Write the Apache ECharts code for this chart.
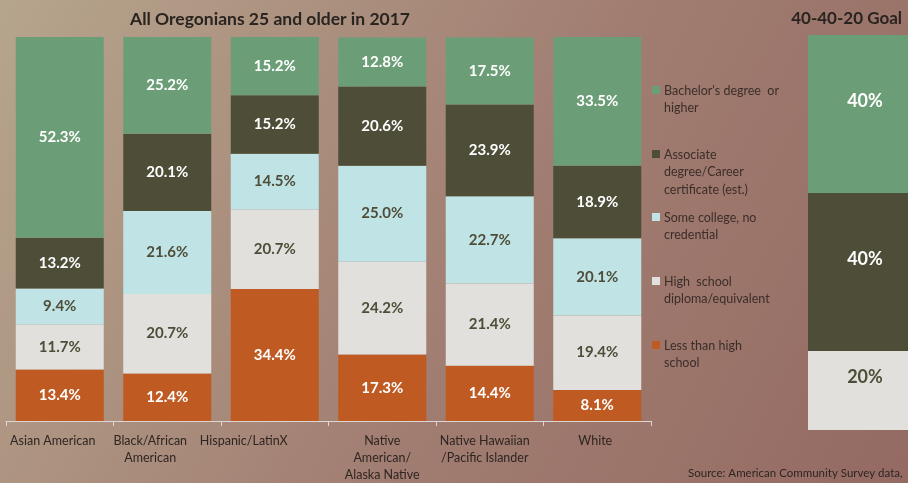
<!DOCTYPE html>
<html>
<head>
<meta charset="utf-8">
<style>
  html, body { margin: 0; padding: 0; }
  #chart { width: 908px; height: 483px; }
</style>
<script src="https://cdn.jsdelivr.net/npm/echarts@6/dist/echarts.min.js"></script>
</head>
<body>
<div id="chart"></div>
<script>
const categories = [
  'Asian American',
  'Black/African\nAmerican',
  'Hispanic/LatinX',
  'Native\nAmerican/\nAlaska Native',
  'Native Hawaiian\n/Pacific Islander',
  'White',
]
// how far each category label sits left of its bar centre (px)
const labelShift = [7, 17, 31, 0, 5, 2]

// bottom to top
const seriesNames = [
  'Less than high school',
  'High school diploma/equivalent',
  'Some college, no credential',
  'Associate degree/Career certificate (est.)',
  "Bachelor's degree or higher",
]
const legendLines = [
  "Bachelor's degree  or\nhigher",
  'Associate\ndegree/Career\ncertificate (est.)',
  'Some college, no\ncredential',
  'High  school\ndiploma/equivalent',
  'Less than high\nschool',
]

const lessThanHS = [13.4, 12.4, 34.4, 17.3, 14.4, 8.1]
const highSchool = [11.7, 20.7, 20.7, 24.2, 21.4, 19.4]
const someCollege = [9.4, 21.6, 14.5, 25.0, 22.7, 20.1]
const associate = [13.2, 20.1, 15.2, 20.6, 23.9, 18.9]
const bachelor = [52.3, 25.2, 15.2, 12.8, 17.5, 33.5]

const goalValues = [20, 40, 40] // high school, associate, bachelor

const colors = ['#bf5a22', '#e2e0dc', '#c0e3e6', '#4e4d38', '#6b9e77']
const labelColors = ['#ffffff', '#4e4d38', '#4e4d38', '#ffffff', '#ffffff']
const fontFamily = 'Lato, "Open Sans", sans-serif'

const chart = echarts.init(document.getElementById('chart'))

const dataSets = [lessThanHS, highSchool, someCollege, associate, bachelor]

const series = dataSets.map((vals, i) => ({
  name: seriesNames[i],
  type: 'bar',
  stack: 'all',
  xAxisIndex: 0,
  yAxisIndex: 0,
  barWidth: 88,
  data: vals,
  itemStyle: { color: colors[i] },
  label: {
    show: true,
    position: 'inside',
    formatter: p => p.value.toFixed(1) + '%',
    color: labelColors[i],
    fontFamily,
    fontWeight: 'bold',
    fontSize: 15,
  },
}))

// goal bar: high school, associate, bachelor
const goalColorIdx = [1, 3, 4]
goalValues.forEach((v, k) => {
  const ci = goalColorIdx[k]
  series.push({
    name: 'goal' + k,
    type: 'bar',
    stack: 'goal',
    xAxisIndex: 1,
    yAxisIndex: 1,
    barWidth: '100%',
    data: [v],
    itemStyle: { color: colors[ci] },
    label: {
      show: true,
      position: 'inside',
      offset: [7, -13],
      formatter: p => p.value + '%',
      color: labelColors[ci],
      fontFamily,
      fontWeight: 'bold',
      fontSize: 18,
    },
  })
})

// legend drawn as graphics so the marker sits on the first text line
const legendTops = [82, 146, 209, 273, 337]
const legendGraphics = []
legendLines.forEach((txt, i) => {
  const ci = 4 - i
  legendGraphics.push({
    type: 'rect',
    left: 652,
    top: legendTops[i] + 4,
    shape: { width: 8, height: 8 },
    style: { fill: colors[ci] },
  })
  legendGraphics.push({
    type: 'text',
    left: 664,
    top: legendTops[i],
    style: {
      text: txt,
      fill: '#3b2e2a',
      font: '12.5px ' + fontFamily,
      lineHeight: 17.5,
    },
  })
})

const option = {
  backgroundColor: {
    type: 'linear',
    x: 0, y: 0, x2: 1, y2: 1,
    colorStops: [
      { offset: 0, color: '#b6a58d' },
      { offset: 0.55, color: '#a17d71' },
      { offset: 1, color: '#946a62' },
    ],
  },
  animation: false,
  title: [
    {
      text: 'All Oregonians 25 and older in 2017',
      left: 265,
      top: 5,
      textAlign: 'center',
      textStyle: { fontFamily, fontWeight: 'bold', fontSize: 17.5, color: '#2a2420' },
    },
    {
      text: '40-40-20 Goal',
      right: 1,
      top: 5,
      textStyle: { fontFamily, fontWeight: 'bold', fontSize: 17, color: '#2a2420' },
    },
    {
      text: 'Source: American Community Survey data,',
      left: 683,
      top: 462,
      textStyle: { fontFamily, fontWeight: 'normal', fontSize: 11.5, color: '#2e2522' },
    },
  ],
  grid: [
    { left: 6, right: 257, top: 37, bottom: 60 },
    { left: 808, right: -14, top: 35, bottom: 53 },
  ],
  xAxis: [
    {
      type: 'category',
      gridIndex: 0,
      data: categories.map((c, i) => ({
        value: c,
        textStyle: { padding: [0, labelShift[i] * 2, 0, 0] },
      })),
      axisLine: { show: true, lineStyle: { color: '#ddd6d2', width: 1 } },
      axisTick: { show: true, length: 5, lineStyle: { color: '#ddd6d2' } },
      axisLabel: {
        color: '#2e2522',
        fontFamily,
        fontSize: 12.5,
        lineHeight: 17,
        margin: 11,
        interval: 0,
      },
    },
    {
      type: 'category',
      gridIndex: 1,
      data: ['goal'],
      show: false,
    },
  ],
  yAxis: [
    { type: 'value', gridIndex: 0, min: 0, max: 100, show: false },
    { type: 'value', gridIndex: 1, min: 0, max: 100, show: false },
  ],
  graphic: legendGraphics,
  series,
}

chart.setOption(option)
</script>
</body>
</html>
